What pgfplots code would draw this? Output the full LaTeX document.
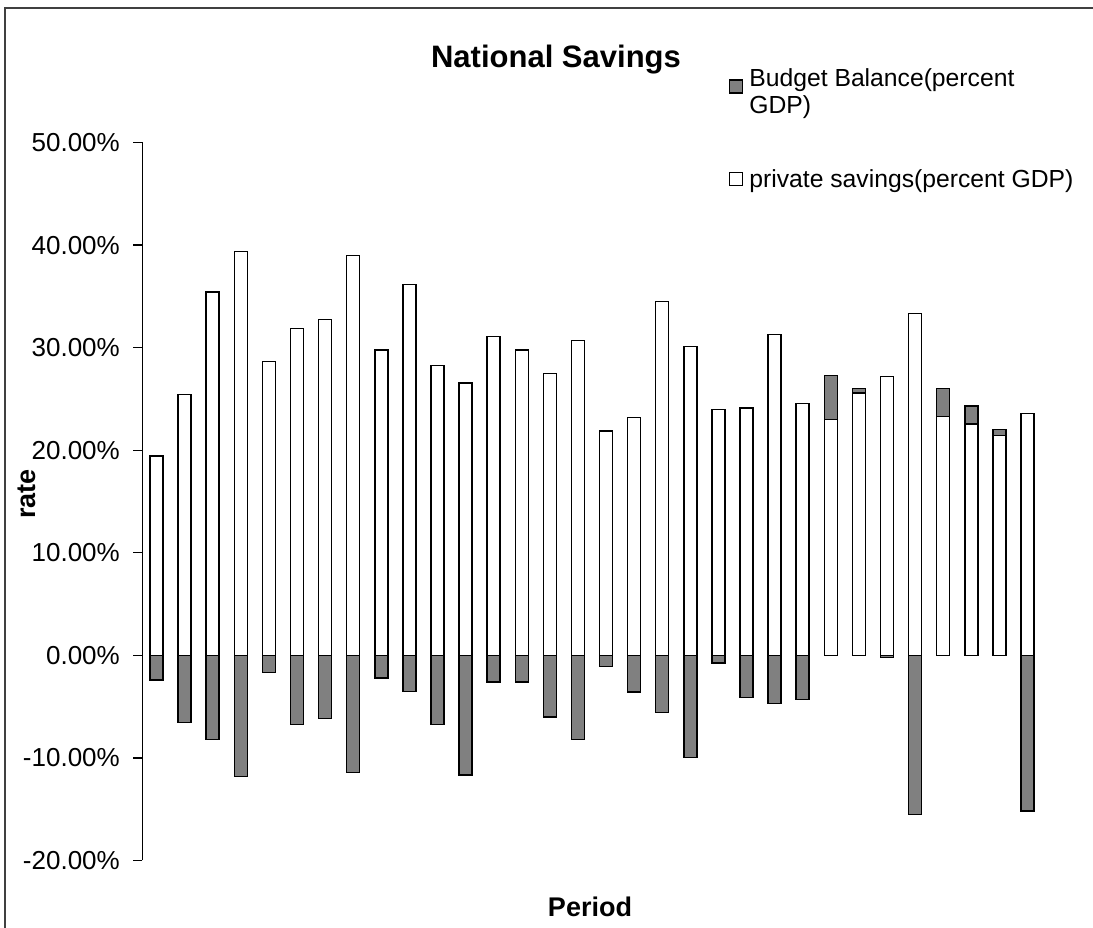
\documentclass[border=0pt]{standalone}
\usepackage{fontspec}
\setmainfont{Liberation Sans}
\usepackage{pgfplots}
\pgfplotsset{compat=1.18}
\usepackage{pgfplotstable}
\usetikzlibrary{calc}
\definecolor{barGray}{RGB}{128,128,128}
\pgfplotstableread{
x private budget
1 19.43 -2.40
2 25.45 -6.56
3 35.42 -8.20
4 39.36 -11.80
5 28.63 -1.66
6 31.85 -6.76
7 32.76 -6.17
8 39.00 -11.44
9 29.77 -2.20
10 36.17 -3.54
11 28.27 -6.76
12 26.55 -11.67
13 31.07 -2.60
14 29.77 -2.60
15 27.49 -6.00
16 30.71 -8.20
17 21.87 -1.10
18 23.17 -3.58
19 34.51 -5.59
20 30.13 -9.94
21 23.95 -0.75
22 24.11 -4.12
23 31.27 -4.68
24 24.54 -4.32
25 22.98 4.32
26 25.57 0.43
27 27.17 -0.20
28 33.31 -15.53
29 23.30 2.70
30 22.55 1.75
31 21.45 0.58
32 23.56 -15.18
}\data
\begin{document}
\begin{tikzpicture}[x=1pt,y=1pt]
\begin{axis}[
  scale only axis, width=899pt, height=718pt,
  xmin=0.5, xmax=32.5, ymin=-20, ymax=50,
  axis x line=none, axis y line*=left,
  ytick={-20,-10,...,50},
  yticklabels={-20.00\%,-10.00\%,0.00\%,10.00\%,20.00\%,30.00\%,40.00\%,50.00\%},
  tick align=outside, major tick length=9pt,
  y axis line style={line width=1.4pt},
  ytick style={line width=1.4pt, black},
  yticklabel style={font=\fontsize{26}{30}\selectfont, anchor=east, inner sep=0pt, xshift=-13.5pt},
  ybar, bar width=13pt,
  clip=false,
  legend cell align=left,
  legend style={draw=none, fill=none, at={(0.6524,1.1029)}, anchor=north west,
    inner sep=0pt, outer sep=0pt, row sep=55pt, column sep=6pt,
    font=\fontsize{24.7}{27}\selectfont,
    nodes={inner sep=0pt, align=left}},
  legend image code/.code={\draw[line width=1.4pt, #1] (0pt,-7pt) rectangle (13pt,6pt);},
]
\addlegendimage{fill=barGray, draw=black, yshift=6pt}
\addlegendentry{Budget Balance(percent\\GDP)}
\addlegendimage{fill=white, draw=black, yshift=1pt}
\addlegendentry{private savings(percent GDP)}
\addplot[forget plot, ybar, bar shift=0pt, fill=barGray, draw=black, line width=1.5pt,
  restrict expr to domain={\thisrow{budget}}{0:100}]
  table[x=x, y expr={\thisrow{private}+\thisrow{budget}}] {\data};
\addplot[forget plot, ybar, bar shift=0pt, fill=white, draw=black, line width=1.5pt]
  table[x=x, y=private] {\data};
\addplot[forget plot, ybar, bar shift=0pt, fill=barGray, draw=black, line width=1.5pt,
  restrict expr to domain={\thisrow{budget}}{-100:0}]
  table[x=x, y=budget] {\data};
\coordinate (BL) at (rel axis cs:0,0);
\end{axis}
\pgfresetboundingbox
\begin{scope}[shift={($(BL)+(-142.5,-67.5)$)}]
\useasboundingbox (0,0) rectangle (1093,928);
\draw[line width=1.6pt, black!75] (5,0) -- (5,920) -- (1093,920);
\node[font=\bfseries\fontsize{31}{36}\selectfont, anchor=base] at (556,860) {National Savings};
\node[font=\bfseries\fontsize{27}{32}\selectfont, anchor=base] at (590,11) {Period};
\node[font=\bfseries\fontsize{27}{32}\selectfont, rotate=90, anchor=center] at (27,434) {rate};
\end{scope}
\end{tikzpicture}
\end{document}
